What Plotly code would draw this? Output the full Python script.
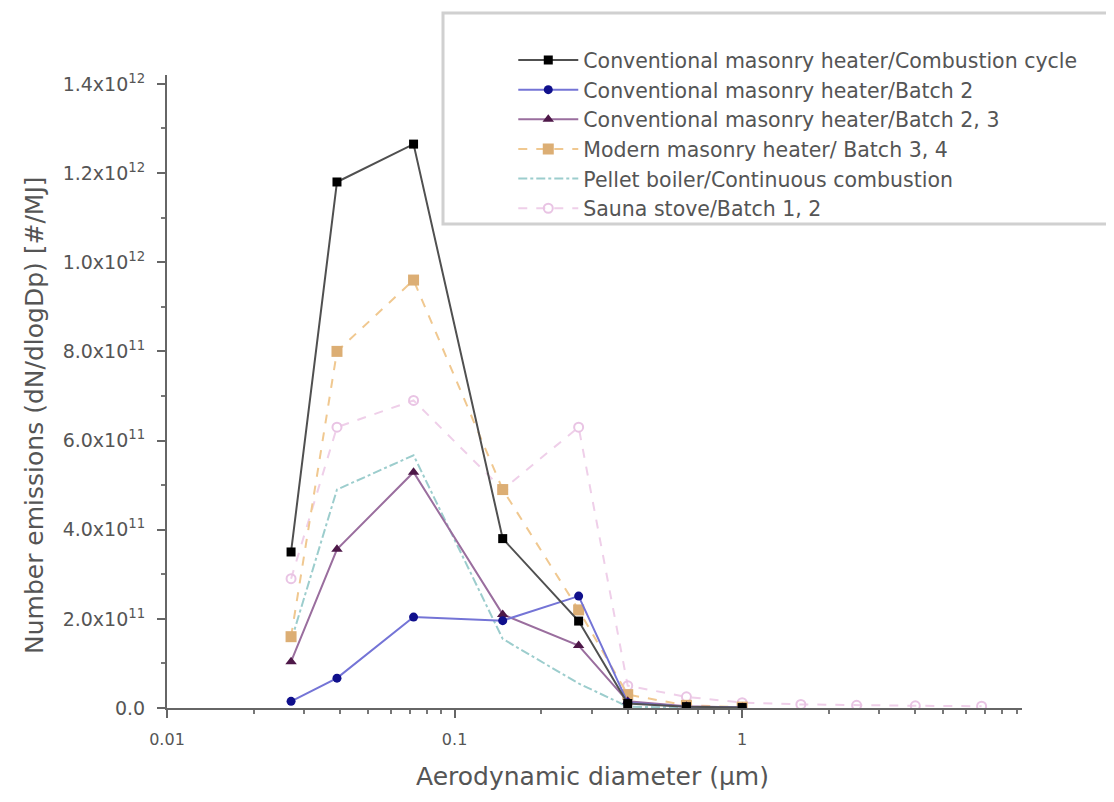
import plotly.graph_objects as go

# Aerodynamic diameter (µm)
diam = [0.027, 0.039, 0.072, 0.147, 0.27, 0.40, 0.64, 1.0, 1.6, 2.5, 4.0, 6.8]

# Number emissions (#/MJ)
conv_cycle = [3.5e11, 11.8e11, 12.65e11, 3.8e11, 1.95e11, 0.10e11, 0.03e11, 0.01e11]
conv_b2 = [0.15e11, 0.67e11, 2.04e11, 1.96e11, 2.51e11, 0.12e11, 0.03e11, 0.01e11]
conv_b23 = [1.04e11, 3.56e11, 5.29e11, 2.1e11, 1.4e11, 0.15e11, 0.04e11, 0.01e11]
modern_b34 = [1.6e11, 8.0e11, 9.6e11, 4.9e11, 2.2e11, 0.3e11, 0.06e11, 0.02e11]
pellet = [1.5e11, 4.9e11, 5.67e11, 1.55e11, 0.55e11, 0.03e11, 0.01e11, 0.0]
sauna = [2.9e11, 6.3e11, 6.9e11, 4.9e11, 6.3e11, 0.5e11, 0.25e11, 0.12e11, 0.08e11, 0.06e11, 0.05e11, 0.04e11]

names = [
    "Conventional masonry heater/Combustion cycle",
    "Conventional masonry heater/Batch 2",
    "Conventional masonry heater/Batch 2, 3",
    "Modern masonry heater/ Batch 3, 4",
    "Pellet boiler/Continuous combustion",
    "Sauna stove/Batch 1, 2",
]

y_tickvals = [0, 2e11, 4e11, 6e11, 8e11, 1e12, 1.2e12, 1.4e12]
y_ticktext = ["0.0", "2.0x10<sup>11</sup>", "4.0x10<sup>11</sup>", "6.0x10<sup>11</sup>",
              "8.0x10<sup>11</sup>", "1.0x10<sup>12</sup>", "1.2x10<sup>12</sup>", "1.4x10<sup>12</sup>"]
x_tickvals = [0.01, 0.1, 1]
x_ticktext = ["0.01", "0.1", "1"]
x_title = "Aerodynamic diameter (µm)"
y_title = "Number emissions (dN/dlogDp) [#/MJ]"

FONT = "DejaVu Sans"
fig = go.Figure()

# drawn back-to-front; legend reversed so it lists in original order
fig.add_trace(go.Scatter(x=diam[:len(sauna)], y=sauna, name=names[5], mode="lines+markers",
                         line=dict(color="#efcfe9", width=2, dash="dash"),
                         marker=dict(symbol="circle-open", size=9, color="#e9c4e4", line=dict(width=2))))
fig.add_trace(go.Scatter(x=diam[:len(pellet)], y=pellet, name=names[4], mode="lines",
                         line=dict(color="#9ccdcd", width=2, dash="dashdot")))
fig.add_trace(go.Scatter(x=diam[:len(modern_b34)], y=modern_b34, name=names[3], mode="lines+markers",
                         line=dict(color="#f0c890", width=2, dash="dash"),
                         marker=dict(symbol="square", size=11, color="#dcae74")))
fig.add_trace(go.Scatter(x=diam[:len(conv_b23)], y=conv_b23, name=names[2], mode="lines+markers",
                         line=dict(color="#9a6e9e", width=2),
                         marker=dict(symbol="triangle-up", size=10, color="#4e1848")))
fig.add_trace(go.Scatter(x=diam[:len(conv_b2)], y=conv_b2, name=names[1], mode="lines+markers",
                         line=dict(color="#7474d6", width=2),
                         marker=dict(symbol="circle", size=9, color="#10108c")))
fig.add_trace(go.Scatter(x=diam[:len(conv_cycle)], y=conv_cycle, name=names[0], mode="lines+markers",
                         line=dict(color="#505050", width=2),
                         marker=dict(symbol="square", size=9, color="#000000")))

fig.update_layout(
    width=1114, height=802,
    margin=dict(l=159, r=100, t=67, b=102),
    paper_bgcolor="white", plot_bgcolor="white",
    font=dict(family=FONT, color="#444"),
    legend=dict(traceorder="reversed", x=0.405, y=1.055, xanchor="left", yanchor="top",
                bgcolor="rgba(0,0,0,0)", borderwidth=0, itemwidth=60,
                font=dict(size=20.5, color="#555", family=FONT)),
    shapes=[dict(type="rect", xref="paper", yref="paper",
                 x0=(443 - 167) / 855, x1=(1125 - 167) / 855,
                 y0=(708 - 224) / 633, y1=(708 - 13) / 633,
                 line=dict(color="#d0d0d0", width=3), fillcolor="rgba(0,0,0,0)", layer="below")],
    annotations=[
        dict(text=x_title, xref="paper", yref="paper", x=(592 - 167) / 855, y=(708 - 777) / 633,
             xanchor="center", yanchor="middle", showarrow=False,
             font=dict(size=25, color="#555", family=FONT)),
        dict(text=y_title, xref="paper", yref="paper", x=(35 - 167) / 855, y=(708 - 415) / 633,
             xanchor="center", yanchor="middle", showarrow=False, textangle=-90,
             font=dict(size=25, color="#555", family=FONT)),
    ],
    xaxis=dict(type="log", range=[-2, 0.973], tickvals=x_tickvals, ticktext=x_ticktext,
               showgrid=False, zeroline=False, showline=True, linecolor="#666", linewidth=2,
               ticks="outside", ticklen=8, tickwidth=2, tickcolor="#666", ticklabelstandoff=8,
               tickfont=dict(size=16, color="#555"),
               minor=dict(tickvals=[0.02, 0.03, 0.04, 0.05, 0.06, 0.07, 0.08, 0.09,
                                    0.2, 0.3, 0.4, 0.5, 0.6, 0.7, 0.8, 0.9,
                                    2, 3, 4, 5, 6, 7, 8, 9],
                          ticks="outside", ticklen=4, tickwidth=2, tickcolor="#777", showgrid=False)),
    yaxis=dict(range=[0, 1.42e12], tickvals=y_tickvals, ticktext=y_ticktext,
               showgrid=False, zeroline=False, showline=True, linecolor="#666", linewidth=2,
               ticks="outside", ticklen=8, tickwidth=2, tickcolor="#666", ticklabelstandoff=8,
               tickfont=dict(size=19, color="#555"),
               minor=dict(tickvals=[1e11, 3e11, 5e11, 7e11, 9e11, 1.1e12, 1.3e12],
                          ticks="outside", ticklen=4, tickwidth=2, tickcolor="#777", showgrid=False)),
)

fig.write_html("out.html")
